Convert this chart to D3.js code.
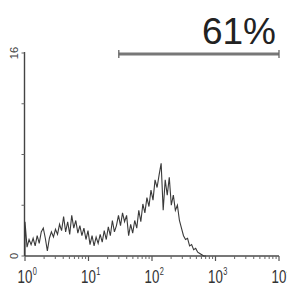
<!DOCTYPE html>
<html lang="en">
<head>
<meta charset="utf-8">
<script src="https://d3js.org/d3.v7.min.js"></script>
<style>
  body { margin: 0; background: #fff; }
  svg { display: block; }
</style>
</head>
<body>
<script>
  // histogram counts, one per log bin (bin width = 0.032 decade, starting at 10^0)
  var binStep = 0.032;
  var counts = [2.7, 0.7, 1.3, 0.9, 1.4, 0.8, 1.6, 1.0, 1.9, 2.2,
                1.4, 0.4, 1.4, 1.9, 1.5, 2.1, 1.7, 2.5, 2.0, 3.1,
                1.9, 2.7, 1.7, 3.2, 2.2, 2.8, 1.8, 2.4, 1.6, 2.2,
                1.3, 2.0, 0.9, 1.6, 0.8, 1.5, 1.0, 1.7, 1.1, 2.0,
                1.3, 2.3, 1.6, 2.8, 1.9, 2.4, 3.2, 2.4, 3.4, 2.7,
                3.2, 1.6, 2.5, 1.8, 2.8, 2.2, 3.6, 2.7, 4.1, 3.4,
                4.6, 3.9, 5.2, 4.4, 6.0, 5.4, 6.4, 7.3, 3.6, 6.0,
                4.8, 6.2, 4.0, 4.8, 3.6, 4.0, 2.8, 2.2, 1.6, 1.3,
                1.4, 0.8, 0.9, 0.5, 0.6, 0.3, 0.2, 0.1, 0, 0];
  var decades = [1, 10, 100, 1000, 10000];
  var decadeExp = ["0", "1", "2", "3", "4"];
  var yTicks = [0, 4, 8, 12, 16];
  var yLabels = ["0", "", "", "", "16"];
  var gateRange = [30, 10000];
  var gateLabel = "61%";

  var W = 287, H = 285;
  var svg = d3.select("body").append("svg")
              .attr("width", W).attr("height", H);

  var x = d3.scaleLog().domain([1, 10000]).range([25, 279]);
  var y = d3.scaleLinear().domain([0, 16]).range([256, 53]);

  // minor ticks on x
  var minor = [];
  decades.slice(0, 4).forEach(function (d) {
    for (var k = 2; k <= 9; k++) minor.push(d * k);
  });

  // x axis line
  svg.append("line")
     .attr("x1", x(1)).attr("x2", x(10000))
     .attr("y1", y(0)).attr("y2", y(0))
     .attr("stroke", "#777").attr("stroke-width", 2);

  svg.selectAll(".minor").data(minor).enter().append("line")
     .attr("x1", d => x(d)).attr("x2", d => x(d))
     .attr("y1", y(0)).attr("y2", y(0) + 3)
     .attr("stroke", "#666").attr("stroke-width", 1);

  svg.selectAll(".major").data(decades).enter().append("line")
     .attr("x1", d => x(d)).attr("x2", d => x(d))
     .attr("y1", y(0)).attr("y2", y(0) + 5)
     .attr("stroke", "#555").attr("stroke-width", 1.2);

  // x labels (narrow), "10" centred on the tick, exponent hanging right
  var xl = svg.selectAll(".xl").data(decades).enter().append("g")
     .attr("transform", d => "translate(" + x(d) + ",283) scale(0.74,1)");
  xl.append("text")
     .attr("text-anchor", "middle")
     .attr("font-family", "Liberation Sans, Arial, sans-serif")
     .attr("font-size", 18).attr("fill", "#333")
     .text("10");
  xl.append("text")
     .attr("x", 10.5).attr("y", -8)
     .attr("font-family", "Liberation Sans, Arial, sans-serif")
     .attr("font-size", 10).attr("fill", "#333")
     .text((d, i) => decadeExp[i]);

  // y axis
  svg.append("line")
     .attr("x1", 24.5).attr("x2", 24.5)
     .attr("y1", y(16) - 1).attr("y2", y(0))
     .attr("stroke", "#444").attr("stroke-width", 1.4);

  svg.selectAll(".yt").data(yTicks).enter().append("line")
     .attr("x1", 21.5).attr("x2", 24.5)
     .attr("y1", d => y(d)).attr("y2", d => y(d))
     .attr("stroke", "#666").attr("stroke-width", 1);

  svg.selectAll(".yl").data(yTicks).enter().append("text")
     .attr("transform", d => "translate(18," + y(d) + ") rotate(-90)")
     .attr("text-anchor", "middle")
     .attr("font-family", "Liberation Sans, Arial, sans-serif")
     .attr("font-size", 11).attr("fill", "#444")
     .text((d, i) => yLabels[i]);

  // histogram trace
  var pts = counts.map((c, i) => [Math.pow(10, i * binStep), c]);
  var line = d3.line()
     .x(d => x(d[0]))
     .y(d => y(d[1]));
  svg.append("path")
     .datum([[1, 0]].concat(pts))
     .attr("d", line)
     .attr("fill", "none")
     .attr("stroke", "#3a3a3a")
     .attr("stroke-width", 1.1)
     .attr("stroke-linejoin", "miter");

  // gate bar
  var gy = 54;
  svg.append("line")
     .attr("x1", x(gateRange[0])).attr("x2", x(gateRange[1]))
     .attr("y1", gy).attr("y2", gy)
     .attr("stroke", "#777").attr("stroke-width", 3);
  svg.selectAll(".cap").data(gateRange).enter().append("line")
     .attr("x1", d => x(d)).attr("x2", d => x(d))
     .attr("y1", gy - 4).attr("y2", gy + 4)
     .attr("stroke", "#666").attr("stroke-width", 1.3);

  svg.append("text")
     .attr("x", 276).attr("y", 44)
     .attr("text-anchor", "end")
     .attr("font-family", "Liberation Sans, Arial, sans-serif")
     .attr("font-size", 37).attr("fill", "#222")
     .text(gateLabel);
</script>
</body>
</html>
